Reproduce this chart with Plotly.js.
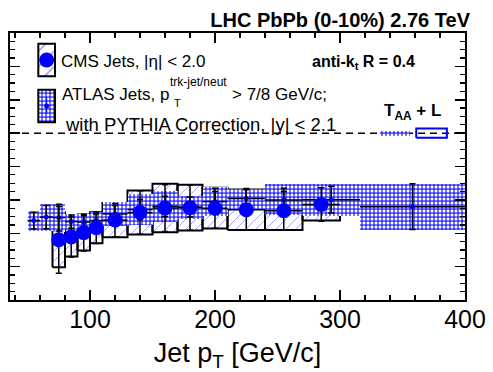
<!DOCTYPE html>
<html>
<head>
<meta charset="utf-8">
<script src="https://cdn.plot.ly/plotly-3.0.1.min.js"></script>
<style>html,body{margin:0;padding:0;background:#fff;}#chart{width:493px;height:372px;}</style>
</head>
<body>
<div id="chart"></div>
<script>
// ---------- data ----------
const cmsLo   = [70, 80, 90, 100, 110, 130, 150, 170, 190, 210, 240, 270];
const cmsHi   = [80, 90, 100, 110, 130, 150, 170, 190, 210, 240, 270, 300];
const cmsRaa  = [0.361, 0.378, 0.404, 0.433, 0.479, 0.524, 0.551, 0.553, 0.550, 0.541, 0.535, 0.572];
const cmsSys  = [0.165, 0.118, 0.108, 0.093, 0.103, 0.132, 0.145, 0.137, 0.122, 0.121, 0.115, 0.096];
const cmsStat = [0.200, 0.120, 0.110, 0.095, 0.100, 0.130, 0.140, 0.135, 0.120, 0.120, 0.115, 0.100];

const atlasLo   = [50, 60, 70, 80, 90, 100, 110, 130, 150, 170, 190, 210, 240, 270, 316];
const atlasHi   = [60, 70, 80, 90, 100, 110, 130, 150, 170, 190, 210, 240, 270, 316, 400];
const atlasRaa  = [0.476, 0.497, 0.494, 0.470, 0.467, 0.476, 0.516, 0.542, 0.561, 0.557, 0.590, 0.608, 0.600, 0.601, 0.559];
const atlasSys  = [0.060, 0.081, 0.084, 0.048, 0.050, 0.050, 0.070, 0.095, 0.095, 0.069, 0.085, 0.060, 0.093, 0.095, 0.137];
const atlasStat = [0.050, 0.070, 0.080, 0.040, 0.040, 0.040, 0.050, 0.060, 0.060, 0.060, 0.060, 0.060, 0.070, 0.080, 0.137];

const normErrAtlas = 0.015;   // ATLAS normalisation (T_AA + L) uncertainty
const normErrCms   = 0.027;   // CMS normalisation (T_AA + L) uncertainty

const xTickVals = [100, 200, 300, 400];
const xTickText = ['100', '200', '300', '400'];

// ---------- styles / placement ----------
const BLUE = '#0000ff';
const FONT = '"Liberation Sans", Arial, Helvetica, sans-serif';
const X_RANGE = [36, 400], Y_RANGE = [0, 1.6];
const PLOT_W = 455, PLOT_H = 267;
const NORM_ATLAS_X = [332, 356], NORM_CMS_X = [361, 385.5];
const cmsPattern = {shape: '/', fgcolor: '#8c8cff', bgcolor: '#ffffff', size: 11, solidity: 0.12, fillmode: 'replace'};
const atlasPattern = {shape: '.', fgcolor: '#ffffff', bgcolor: '#3535ff', size: 4, solidity: 0.45, fillmode: 'replace'};

const mid = (lo, hi) => lo.map((v, i) => (v + hi[i]) / 2);
const wid = (lo, hi) => lo.map((v, i) => hi[i] - v);
const cmsX = mid(cmsLo, cmsHi), cmsW = wid(cmsLo, cmsHi);
const atlasX = mid(atlasLo, atlasHi), atlasW = wid(atlasLo, atlasHi);

function outlines(lo, hi, val, err) {
  const xs = [], ys = [];
  lo.forEach((l, i) => {
    const h = hi[i], b = val[i] - err[i], t = val[i] + err[i];
    xs.push(l, h, h, l, l, null);
    ys.push(b, b, t, t, b, null);
  });
  return {x: xs, y: ys};
}
function hatch(lo, hi, val, err, spacing) {
  const sx = PLOT_W / (X_RANGE[1] - X_RANGE[0]), sy = PLOT_H / (Y_RANGE[1] - Y_RANGE[0]);
  const xs = [], ys = [];
  lo.forEach((l, i) => {
    const u0 = l * sx, u1 = hi[i] * sx, v0 = (val[i] - err[i]) * sy, v1 = (val[i] + err[i]) * sy;
    for (let c = Math.ceil((u0 - v1) / spacing) * spacing; c <= u1 - v0; c += spacing) {
      const a = Math.max(u0, v0 + c), b = Math.min(u1, v1 + c);
      if (b > a) { xs.push(a / sx, b / sx, null); ys.push((a - c) / sy, (b - c) / sy, null); }
    }
  });
  return {x: xs, y: ys};
}
const cmsHatch = hatch(cmsLo, cmsHi, cmsRaa, cmsSys, 10);
const cmsOutline = outlines(cmsLo, cmsHi, cmsRaa, cmsSys);
const cmsNormOutline = outlines([NORM_CMS_X[0]], [NORM_CMS_X[1]], [1], [normErrCms]);

const traces = [
  // base: hatch lines
  {type: 'scatter', mode: 'lines', x: cmsHatch.x, y: cmsHatch.y, connectgaps: false,
   line: {color: '#a6a6ff', width: 1}, hoverinfo: 'skip'},
  // x3: CMS box outlines
  {type: 'scatter', mode: 'lines', xaxis: 'x3', yaxis: 'y3', x: cmsOutline.x, y: cmsOutline.y,
   connectgaps: false, line: {color: '#000', width: 2}, hoverinfo: 'skip'},
  {type: 'scatter', mode: 'lines', xaxis: 'x3', yaxis: 'y3', x: cmsNormOutline.x, y: cmsNormOutline.y,
   connectgaps: false, line: {color: BLUE, width: 2}, hoverinfo: 'skip'},
  // x4: ATLAS bands and points
  {type: 'bar', xaxis: 'x4', yaxis: 'y4', x: atlasX, width: atlasW,
   base: atlasRaa.map((v, i) => v - atlasSys[i]), y: atlasSys.map(s => 2 * s),
   marker: {color: '#3535ff', pattern: atlasPattern, line: {width: 0}}, hoverinfo: 'skip'},
  {type: 'bar', xaxis: 'x4', yaxis: 'y4', x: [(NORM_ATLAS_X[0] + NORM_ATLAS_X[1]) / 2],
   width: [NORM_ATLAS_X[1] - NORM_ATLAS_X[0]], base: [1 - normErrAtlas], y: [2 * normErrAtlas],
   marker: {color: '#3535ff', pattern: atlasPattern, line: {width: 0}}, hoverinfo: 'skip'},
  {type: 'scatter', mode: 'markers', xaxis: 'x4', yaxis: 'y4', x: atlasX, y: atlasRaa,
   marker: {color: BLUE, size: 5},
   error_y: {type: 'data', array: atlasStat, color: '#000', thickness: 1.5, width: 3},
   error_x: {type: 'data', array: atlasW.map(w => w / 2), color: '#000', thickness: 1.5, width: 0},
   hoverinfo: 'skip'},
  // x5: CMS points
  {type: 'scatter', mode: 'markers', xaxis: 'x5', yaxis: 'y5', x: cmsX, y: cmsRaa,
   marker: {color: BLUE, size: 15},
   error_y: {type: 'data', array: cmsStat, color: '#000', thickness: 1.5, width: 3},
   error_x: {type: 'data', array: cmsW.map(w => w / 2), color: '#000', thickness: 1.5, width: 0},
   hoverinfo: 'skip'},
  // legend keys (overlay axis in plot fractions)
  {type: 'bar', xaxis: 'x2', yaxis: 'y2', x: [0.0806], width: [0.0367], base: [0.838], y: [0.1216],
   marker: {color: '#ffffff', pattern: cmsPattern, line: {color: '#000', width: 2}}, hoverinfo: 'skip'},
  {type: 'scatter', mode: 'markers', xaxis: 'x2', yaxis: 'y2', x: [0.0806], y: [0.899],
   marker: {color: BLUE, size: 15}, hoverinfo: 'skip'},
  {type: 'bar', xaxis: 'x2', yaxis: 'y2', x: [0.0806], width: [0.0367], base: [0.666], y: [0.121],
   marker: {color: '#3535ff', pattern: atlasPattern, line: {color: '#000', width: 2}}, hoverinfo: 'skip'},
  {type: 'scatter', mode: 'markers', xaxis: 'x2', yaxis: 'y2', x: [0.0806], y: [0.727],
   marker: {color: BLUE, size: 5},
   error_y: {type: 'data', array: [0.03], color: BLUE, thickness: 1, width: 0}, hoverinfo: 'skip'}
];

const ann = (text, x, y, size) => ({
  text, x, y, xref: 'paper', yref: 'paper', xanchor: 'left', yanchor: 'middle',
  showarrow: false, font: {family: FONT, size, color: '#000'}
});
const hiddenX = () => ({overlaying: 'x', range: X_RANGE.slice(), visible: false, fixedrange: true});
const hiddenY = () => ({overlaying: 'y', range: Y_RANGE.slice(), visible: false, fixedrange: true});

const layout = {
  width: 493, height: 372,
  margin: {l: 10, r: 28, t: 33, b: 72, pad: 0},
  paper_bgcolor: '#fff', plot_bgcolor: '#fff',
  showlegend: false, barmode: 'overlay', bargap: 0,
  font: {family: FONT, color: '#000'},
  title: {text: '<b>LHC PbPb (0-10%) 2.76 TeV</b>', x: 470 / 493, xref: 'container', xanchor: 'right',
          y: 1 - 20 / 372, yref: 'container', yanchor: 'middle', font: {family: FONT, size: 20, color: '#000'}},
  xaxis: {range: X_RANGE, tickvals: xTickVals, ticktext: xTickText, ticks: 'inside', ticklen: 10, tickwidth: 1.5,
          tickcolor: '#000', showline: true, linecolor: '#000', linewidth: 2, mirror: 'allticks', showgrid: false,
          zeroline: false, tickfont: {family: FONT, size: 25, color: '#000'}, ticklabelstandoff: -4,
          minor: {dtick: 20, tick0: 0, ticks: 'inside', ticklen: 5, tickwidth: 1.2, tickcolor: '#000', showgrid: false},
          title: {text: 'Jet p<sub>T</sub> [GeV/c]', font: {family: FONT, size: 27, color: '#000'}, standoff: 14}},
  yaxis: {range: Y_RANGE, dtick: 0.2, tick0: 0, ticks: 'inside', ticklen: 10, tickwidth: 1.5, tickcolor: '#000',
          showticklabels: false, showline: true, linecolor: '#000', linewidth: 2, mirror: 'allticks',
          showgrid: false, zeroline: false,
          minor: {dtick: 0.05, tick0: 0, ticks: 'inside', ticklen: 5, tickwidth: 1.2, tickcolor: '#000', showgrid: false}},
  xaxis2: {overlaying: 'x', range: [0, 1], visible: false, fixedrange: true},
  yaxis2: {overlaying: 'y', range: [0, 1], visible: false, fixedrange: true},
  xaxis3: hiddenX(), yaxis3: hiddenY(),
  xaxis4: hiddenX(), yaxis4: hiddenY(),
  xaxis5: hiddenX(), yaxis5: hiddenY(),
  shapes: [
    {type: 'line', xref: 'paper', yref: 'y', x0: 0, x1: 1, y0: 1, y1: 1,
     line: {color: '#000', width: 1.5, dash: '7px,5px'}, layer: 'below'}
  ],
  annotations: [
    ann('CMS Jets, |η| < 2.0', 0.1077, 0.895, 17),
    ann('ATLAS Jets, p', 0.1099, 0.768, 17),
    ann('trk-jet/neut', 0.347, 0.815, 12),
    ann('T', 0.356, 0.737, 11),
    ann('> 7/8 GeV/c;', 0.4835, 0.768, 17),
    ann('with PYTHIA Correction, |y| < 2.1', 0.1165, 0.659, 18.5),
    ann('<b>anti-k<sub>t</sub> R = 0.4</b>', 0.659, 0.891, 16),
    ann('<b>T<sub>AA</sub> + L</b>', 0.817, 0.705, 17)
  ]
};

Plotly.newPlot('chart', traces, layout, {staticPlot: true, displayModeBar: false});
</script>
</body>
</html>
